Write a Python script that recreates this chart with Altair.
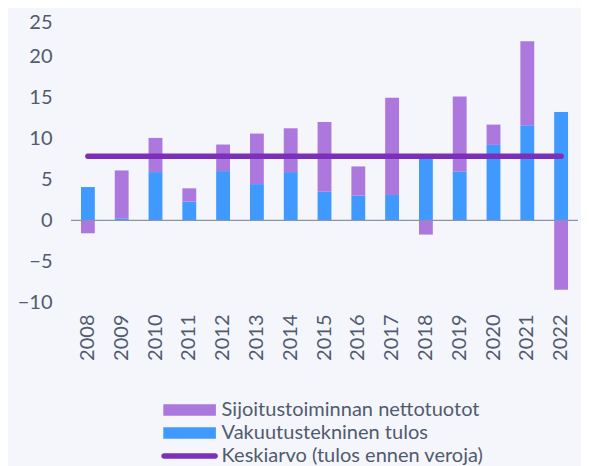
import altair as alt
import pandas as pd

# ---- data ----
years = [str(y) for y in range(2008, 2023)]
vakuutus = [4.07, 0.24, 5.90, 2.28, 6.02, 4.43, 5.90, 3.50, 3.01, 3.09, 7.60, 5.98, 9.23, 11.63, 13.25]
sijoitus = [-1.59, 5.86, 4.18, 1.63, 3.25, 6.18, 5.36, 8.53, 3.58, 11.90, -1.75, 9.18, 2.48, 10.28, -8.50]
keskiarvo = 7.84
names = ["Sijoitustoiminnan nettotuotot", "Vakuutustekninen tulos", "Keskiarvo (tulos ennen veroja)"]
y_ticks = [-10, -5, 0, 5, 10, 15, 20, 25]

# ---- style ----
colors = ["#ac78de", "#4099ff", "#7a30b8"]
bg = "#f5f6fb"
text_color = "#515b6f"
zero_color = "#8b93a7"
font = "Lato"
rect_path = "M-2.63,-0.585H2.63V0.585H-2.63Z"
pill_path = "M-2.55,-0.28H2.55A0.28,0.28 0 0 1 2.55,0.28H-2.55A0.28,0.28 0 0 1 -2.55,-0.28Z"

rows = []
for i, yr in enumerate(years):
    rows.append({"year": yr, "series": names[1], "value": vakuutus[i], "o": 0})
    rows.append({"year": yr, "series": names[0], "value": sijoitus[i], "o": 1})
bars_df = pd.DataFrame(rows)
line_df = pd.DataFrame({"year": years, "value": [keskiarvo] * len(years)})
legend_df = pd.DataFrame({"series": names})
zero_df = pd.DataFrame({"value": [0]})

x_scale = alt.Scale(domain=years, paddingInner=0.59, paddingOuter=0.295)
y_scale = alt.Scale(domain=[-10, 25], nice=False, zero=False)
color_scale = alt.Scale(domain=names, range=colors)
shape_scale = alt.Scale(domain=names, range=[rect_path, rect_path, pill_path])

x_enc = alt.X(
    "year:O", scale=x_scale, title=None,
    axis=alt.Axis(labelAngle=-90, labelPadding=12, ticks=False, tickSize=0, domain=False,
                  grid=False, labelFontSize=20, labelFont=font, labelColor=text_color),
)
y_enc = alt.Y(
    "value:Q", scale=y_scale, title=None,
    axis=alt.Axis(values=y_ticks, ticks=False, tickSize=0, domain=False, grid=False,
                  labelPadding=19, labelFontSize=20, labelFont=font, labelColor=text_color,
                  labelOffset={"condition": {"test": "datum.value == 25", "value": 6}, "value": 0}),
)

bars = alt.Chart(bars_df).mark_bar().encode(
    x=x_enc,
    y=y_enc,
    color=alt.Color("series:N", scale=color_scale, legend=alt.Legend(title=None)),
    order=alt.Order("o:Q"),
)

zero_rule = alt.Chart(zero_df).mark_rule(color=zero_color, strokeWidth=1.2).encode(
    y=alt.Y("value:Q", scale=y_scale)
)

mean_line = alt.Chart(line_df).mark_line(color=colors[2], strokeWidth=5.5, strokeCap="round").encode(
    x=x_enc, y=alt.Y("value:Q", scale=y_scale)
)

legend_pts = alt.Chart(legend_df).mark_point(filled=True, size=400, opacity=1).encode(
    x=alt.value(-300),
    y=alt.value(-300),
    color=alt.Color("series:N", scale=color_scale, legend=alt.Legend(title=None)),
    shape=alt.Shape("series:N", scale=shape_scale, legend=alt.Legend(title=None)),
)

chart = (
    alt.layer(bars, zero_rule, mean_line, legend_pts)
    .properties(
        width=507,
        height=286,
        padding={"left": 63, "top": 8, "right": 3, "bottom": 175},
        autosize=alt.AutoSizeParams(type="none"),
    )
    .configure(background=bg)
    .configure_view(stroke=None)
    .configure_legend(
        orient="none",
        legendX=108.6,
        legendY=384,
        padding=0,
        symbolSize=400,
        symbolStrokeWidth=0,
        labelFontSize=20,
        labelFont=font,
        labelColor=text_color,
        labelOffset=22,
        labelLimit=400,
        rowPadding=3,
    )
)

chart.save("out.html", embed_options={"renderer": "svg", "actions": False})
